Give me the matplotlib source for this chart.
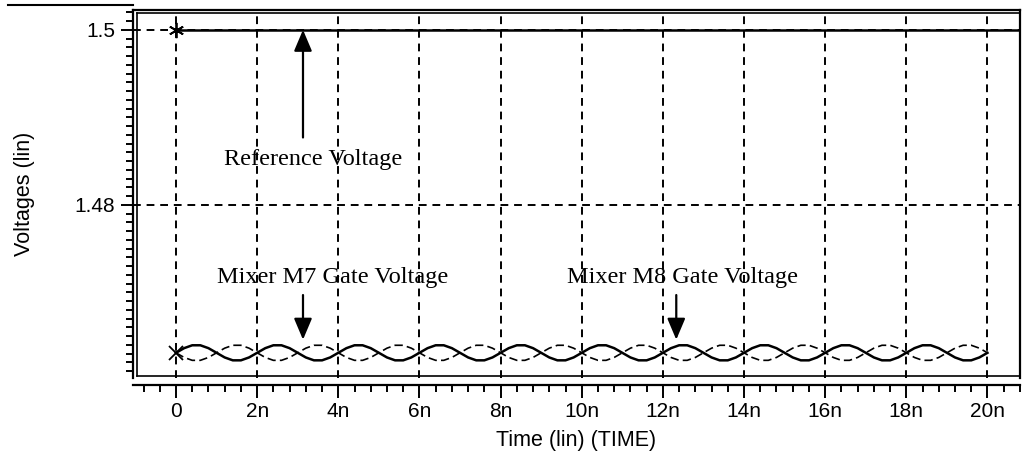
import numpy as np
import matplotlib
matplotlib.use("Agg")
import matplotlib.pyplot as plt
from matplotlib.ticker import MultipleLocator
from matplotlib.lines import Line2D

# ---- data ----
time_ns = [round(0.2 * i, 1) for i in range(101)]
ref_time_ns = [0.0, 20.8]
ref_voltage = [1.5, 1.5]
m7_voltage = [
    1.4631, 1.46363, 1.46396, 1.46396, 1.46363, 1.4631, 1.46257, 1.46224, 1.46224, 1.46257,
    1.4631, 1.46363, 1.46396, 1.46396, 1.46363, 1.4631, 1.46257, 1.46224, 1.46224, 1.46257,
    1.4631, 1.46363, 1.46396, 1.46396, 1.46363, 1.4631, 1.46257, 1.46224, 1.46224, 1.46257,
    1.4631, 1.46363, 1.46396, 1.46396, 1.46363, 1.4631, 1.46257, 1.46224, 1.46224, 1.46257,
    1.4631, 1.46363, 1.46396, 1.46396, 1.46363, 1.4631, 1.46257, 1.46224, 1.46224, 1.46257,
    1.4631, 1.46363, 1.46396, 1.46396, 1.46363, 1.4631, 1.46257, 1.46224, 1.46224, 1.46257,
    1.4631, 1.46363, 1.46396, 1.46396, 1.46363, 1.4631, 1.46257, 1.46224, 1.46224, 1.46257,
    1.4631, 1.46363, 1.46396, 1.46396, 1.46363, 1.4631, 1.46257, 1.46224, 1.46224, 1.46257,
    1.4631, 1.46363, 1.46396, 1.46396, 1.46363, 1.4631, 1.46257, 1.46224, 1.46224, 1.46257,
    1.4631, 1.46363, 1.46396, 1.46396, 1.46363, 1.4631, 1.46257, 1.46224, 1.46224, 1.46257,
    1.4631]
m8_voltage = [
    1.4631, 1.46257, 1.46224, 1.46224, 1.46257, 1.4631, 1.46363, 1.46396, 1.46396, 1.46363,
    1.4631, 1.46257, 1.46224, 1.46224, 1.46257, 1.4631, 1.46363, 1.46396, 1.46396, 1.46363,
    1.4631, 1.46257, 1.46224, 1.46224, 1.46257, 1.4631, 1.46363, 1.46396, 1.46396, 1.46363,
    1.4631, 1.46257, 1.46224, 1.46224, 1.46257, 1.4631, 1.46363, 1.46396, 1.46396, 1.46363,
    1.4631, 1.46257, 1.46224, 1.46224, 1.46257, 1.4631, 1.46363, 1.46396, 1.46396, 1.46363,
    1.4631, 1.46257, 1.46224, 1.46224, 1.46257, 1.4631, 1.46363, 1.46396, 1.46396, 1.46363,
    1.4631, 1.46257, 1.46224, 1.46224, 1.46257, 1.4631, 1.46363, 1.46396, 1.46396, 1.46363,
    1.4631, 1.46257, 1.46224, 1.46224, 1.46257, 1.4631, 1.46363, 1.46396, 1.46396, 1.46363,
    1.4631, 1.46257, 1.46224, 1.46224, 1.46257, 1.4631, 1.46363, 1.46396, 1.46396, 1.46363,
    1.4631, 1.46257, 1.46224, 1.46224, 1.46257, 1.4631, 1.46363, 1.46396, 1.46396, 1.46363,
    1.4631]
x_ticks = [0, 2, 4, 6, 8, 10, 12, 14, 16, 18, 20]
x_tick_labels = ["0", "2n", "4n", "6n", "8n", "10n", "12n", "14n", "16n", "18n", "20n"]
y_ticks = [1.48, 1.5]
y_tick_labels = ["1.48", "1.5"]

fig = plt.figure(figsize=(10.23, 4.66), dpi=100)
ax = fig.add_axes([0.130, 0.189, 0.867, 0.790])
ax.set_xlim(-1.06, 20.8)
ax.set_ylim(1.46023, 1.50229)

# grid
for xt in x_ticks:
    ax.axvline(xt, color="black", lw=1.4, ls=(0, (4, 3)), zorder=1)
for yt in y_ticks:
    ax.axhline(yt, color="black", lw=1.4, ls=(0, (4, 3)), zorder=1)

# curves
ax.plot(ref_time_ns, ref_voltage, color="black", lw=1.8, zorder=3)
ax.plot(time_ns, m8_voltage, color="black", lw=1.2, ls=(0, (5, 2.5)), zorder=3)
ax.plot(time_ns, m7_voltage, color="black", lw=1.8, zorder=4)
ax.plot([0], [1.5], marker=(6, 2, 0), color="black", ms=11, mew=1.3, zorder=5)
ax.plot([0], [m7_voltage[0]], marker="x", color="black", ms=10, mew=1.3, zorder=5)

# annotations
serif = "Liberation Serif"
arrow_kw = dict(arrowstyle="-|>,head_length=1.3,head_width=0.55", color="black", lw=1.6,
                shrinkA=0, shrinkB=0)
ax.annotate("", xy=(3.13, 1.5), xytext=(3.13, 1.4877), arrowprops=arrow_kw)
ax.text(3.38, 1.4852, "Reference Voltage", family=serif, fontsize=17.5,
        ha="center", va="center")
ax.annotate("", xy=(3.13, 1.4646), xytext=(3.13, 1.4697), arrowprops=arrow_kw)
ax.text(3.87, 1.4717, "Mixer M7 Gate Voltage", family=serif, fontsize=17.5,
        ha="center", va="center")
ax.annotate("", xy=(12.33, 1.4646), xytext=(12.33, 1.4697), arrowprops=arrow_kw)
ax.text(12.48, 1.4717, "Mixer M8 Gate Voltage", family=serif, fontsize=17.5,
        ha="center", va="center")

# frame
for s in ["top", "right", "left", "bottom"]:
    ax.spines[s].set_linewidth(1.6)
ax.spines["bottom"].set_position(("outward", 5))

ax.set_xticks(x_ticks)
ax.set_xticklabels(x_tick_labels)
ax.set_yticks(y_ticks)
ax.set_yticklabels(y_tick_labels)
ax.xaxis.set_minor_locator(MultipleLocator(0.4))
ax.yaxis.set_minor_locator(MultipleLocator(0.001))
sans = "Liberation Sans"
ax.tick_params(axis="both", which="major", direction="out", length=9, width=1.4,
               labelsize=15)
ax.tick_params(axis="y", which="major", pad=4)
ax.tick_params(axis="both", which="minor", direction="out", length=5, width=1.4)
for lab in ax.get_xticklabels() + ax.get_yticklabels():
    lab.set_family(sans)
ax.set_xlabel("Time (lin) (TIME)", family=sans, fontsize=15.5, labelpad=6)
ax.set_ylabel("Voltages (lin)", family=sans, fontsize=15.5, labelpad=28)

# inner double frame and top-left scan line
fig.add_artist(Line2D([0.1335, 0.1335], [0.193, 0.972], color="black", lw=1.2,
                      transform=fig.transFigure))
fig.add_artist(Line2D([0.1335, 0.997], [0.193, 0.193], color="black", lw=1.2,
                      transform=fig.transFigure))
fig.add_artist(Line2D([0.1335, 0.997], [0.972, 0.972], color="black", lw=1.2,
                      transform=fig.transFigure))
fig.add_artist(Line2D([0.008, 0.13], [0.989, 0.989], color="black", lw=1.5,
                      transform=fig.transFigure))

fig.savefig("out.png", dpi=100)
